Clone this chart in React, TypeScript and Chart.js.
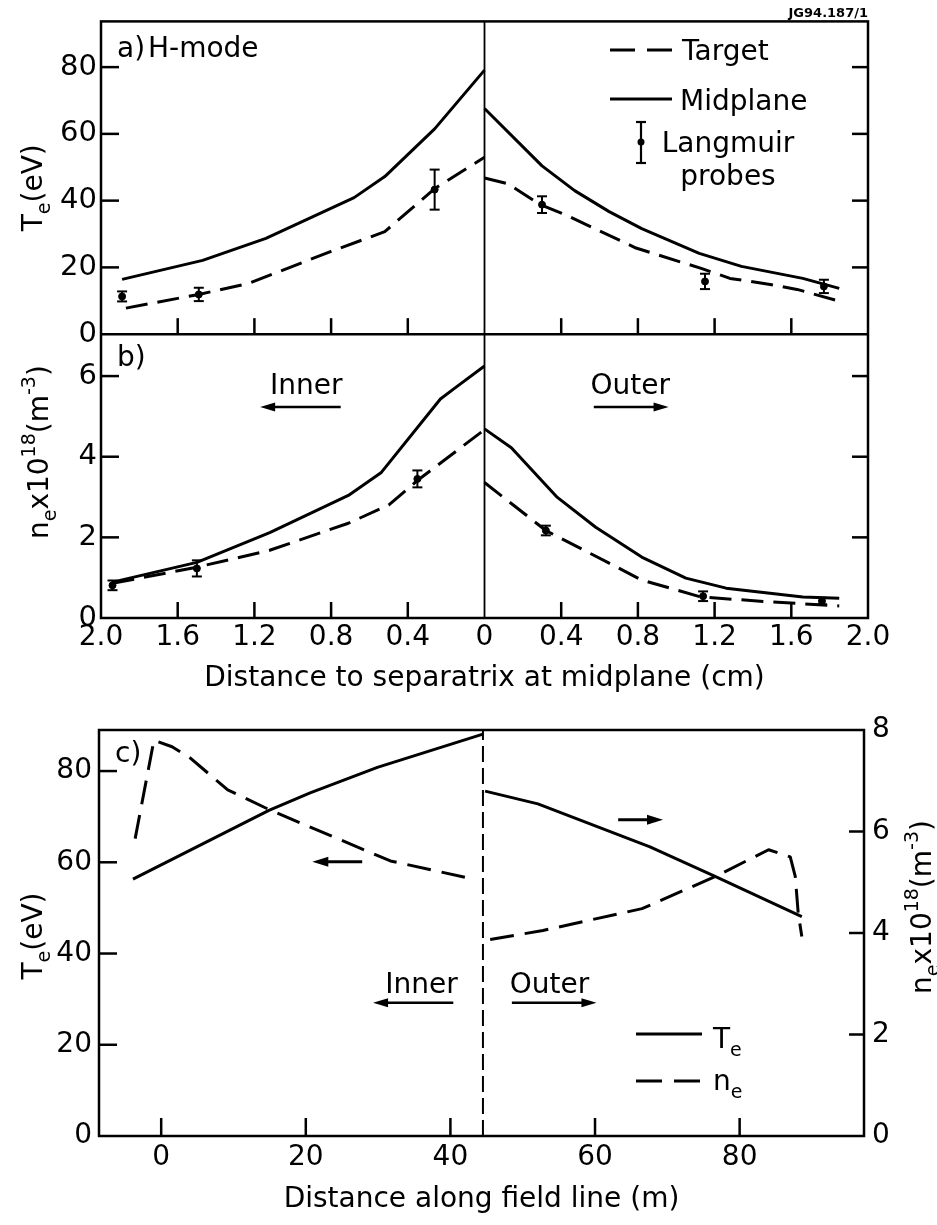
import React, { useEffect, useRef } from "react";
import { Chart, registerables } from "chart.js";

Chart.register(...registerables);

const FONT = '"DejaVu Sans", "Liberation Sans", sans-serif';

// ---------------- Panels a) and b): distance to separatrix at midplane (cm)
// signed axis: negative = inner side, positive = outer side
const AB_X_TICKS = [-2.0, -1.6, -1.2, -0.8, -0.4, 0, 0.4, 0.8, 1.2, 1.6, 2.0];
const AB_X_TICK_LABELS = ["2.0", "1.6", "1.2", "0.8", "0.4", "0", "0.4", "0.8", "1.2", "1.6", "2.0"];
const TE_TICKS = [0, 20, 40, 60, 80];
const NE_TICKS = [0, 2, 4, 6];

// a) Te (eV), inner side (distance from separatrix, cm)
const A_MID_IN_D = [1.89, 1.47, 1.14, 0.68, 0.52, 0.26, 0];
const A_MID_IN_TE = [16.4, 22.1, 28.7, 40.9, 47.2, 61.5, 79.1];
const A_TGT_IN_D = [1.87, 1.49, 1.23, 0.8, 0.52, 0.26, 0];
const A_TGT_IN_TE = [7.8, 11.9, 15.2, 24.8, 30.7, 43.6, 53.0];
// a) Te (eV), outer side
const A_MID_OUT_D = [0, 0.3, 0.47, 0.65, 0.82, 1.12, 1.34, 1.66, 1.85];
const A_MID_OUT_TE = [67.6, 50.4, 43.0, 36.7, 31.6, 24.2, 20.3, 16.7, 13.7];
const A_TGT_OUT_D = [0, 0.12, 0.29, 0.42, 0.79, 1.13, 1.28, 1.49, 1.63, 1.85];
const A_TGT_OUT_TE = [46.8, 45.1, 38.8, 35.8, 25.8, 19.7, 16.7, 14.9, 13.4, 9.9];
// a) Langmuir probes (signed distance)
const A_PROBE_X = [-1.89, -1.49, -0.26, 0.3, 1.15, 1.77];
const A_PROBE_TE = [11.3, 11.9, 43.3, 38.8, 15.8, 14.3];
const A_PROBE_ERR = [1.5, 2.0, 6.0, 2.5, 2.3, 2.0];

// b) ne (10^18 m^-3), inner side
const B_MID_IN_D = [1.94, 1.5, 1.12, 0.71, 0.54, 0.23, 0.155, 0];
const B_MID_IN_NE = [0.89, 1.38, 2.12, 3.04, 3.6, 5.43, 5.7, 6.25];
const B_TGT_IN_D = [1.94, 1.5, 1.12, 0.71, 0.5, 0.35, 0];
const B_TGT_IN_NE = [0.86, 1.26, 1.68, 2.35, 2.8, 3.41, 4.67];
// b) outer side
const B_MID_OUT_D = [0, 0.14, 0.38, 0.58, 0.82, 1.05, 1.26, 1.66, 1.85];
const B_MID_OUT_NE = [4.69, 4.22, 2.99, 2.25, 1.51, 0.99, 0.74, 0.52, 0.49];
const B_TGT_OUT_D = [0, 0.32, 0.65, 0.82, 1.13, 1.49, 1.85];
const B_TGT_OUT_NE = [3.36, 2.17, 1.36, 0.94, 0.52, 0.4, 0.3];
// b) Langmuir probes
const B_PROBE_X = [-1.94, -1.5, -0.35, 0.32, 1.14, 1.76];
const B_PROBE_NE = [0.81, 1.23, 3.45, 2.17, 0.54, 0.42];
const B_PROBE_ERR = [0.12, 0.2, 0.21, 0.12, 0.12, 0.08];

// ---------------- Panel c): distance along field line (m)
const C_X_TICKS = [0, 20, 40, 60, 80];
const C_TE_TICKS = [0, 20, 40, 60, 80];
const C_NE_TICKS = [0, 2, 4, 6, 8];
const C_SEPARATRIX_S = 44.5;
const C_TE_IN_S = [-3.9, 14.9, 20.6, 29.9, 44.5];
const C_TE_IN = [56.3, 71.4, 75.2, 80.8, 88.1];
const C_TE_OUT_S = [44.8, 52.1, 67.6, 76.6, 88.6];
const C_TE_OUT = [75.6, 72.8, 63.4, 56.9, 48.1];
const C_NE_IN_S = [-3.6, -1.0, 1.5, 4.0, 9.2, 15.1, 31.7, 42.0];
const C_NE_IN = [5.86, 7.8, 7.67, 7.45, 6.82, 6.42, 5.42, 5.1];
const C_NE_OUT_S = [45.5, 52.8, 66.5, 76.6, 84.0, 87.0, 87.7, 88.1, 88.6];
const C_NE_OUT = [3.87, 4.05, 4.48, 5.11, 5.64, 5.5, 5.11, 4.39, 3.93];

// ---------------- helpers
const font = (size: number, weight = "") => `${weight ? weight + " " : ""}${size}px ${FONT}`;

function seg(ctx: CanvasRenderingContext2D, x1: number, y1: number, x2: number, y2: number) {
  ctx.beginPath();
  ctx.moveTo(x1, y1);
  ctx.lineTo(x2, y2);
  ctx.stroke();
}

function arrow(ctx: CanvasRenderingContext2D, x1: number, y: number, x2: number, lw = 2.5, head = 15, hw = 4.5) {
  const dir = x2 > x1 ? 1 : -1;
  ctx.save();
  ctx.setLineDash([]);
  ctx.lineWidth = lw;
  seg(ctx, x1, y, x2 - dir * head * 0.7, y);
  ctx.beginPath();
  ctx.moveTo(x2, y);
  ctx.lineTo(x2 - dir * head, y - hw);
  ctx.lineTo(x2 - dir * head, y + hw);
  ctx.closePath();
  ctx.fill();
  ctx.restore();
}

function errBar(ctx: CanvasRenderingContext2D, px: number, pTop: number, pBot: number, cap = 5, lw = 2) {
  ctx.lineWidth = lw;
  ctx.setLineDash([]);
  seg(ctx, px, pTop, px, pBot);
  seg(ctx, px - cap, pTop, px + cap, pTop);
  seg(ctx, px - cap, pBot, px + cap, pBot);
}

type Seg = { t: string; k?: "sub" | "sup" };
function drawRich(
  ctx: CanvasRenderingContext2D,
  segs: Seg[],
  x: number,
  y: number,
  size: number,
  rot = 0,
  align: "left" | "center" = "left"
) {
  ctx.save();
  ctx.translate(x, y);
  ctx.rotate(rot);
  const small = Math.round(size * 0.68);
  let w = 0;
  for (const s of segs) {
    ctx.font = font(s.k ? small : size);
    w += ctx.measureText(s.t).width;
  }
  let cx = align === "center" ? -w / 2 : 0;
  ctx.textAlign = "left";
  ctx.textBaseline = "alphabetic";
  ctx.fillStyle = "#000";
  for (const s of segs) {
    ctx.font = font(s.k ? small : size);
    const dy = s.k === "sub" ? size * 0.28 : s.k === "sup" ? -size * 0.45 : 0;
    ctx.fillText(s.t, cx, dy);
    cx += ctx.measureText(s.t).width;
  }
  ctx.restore();
}

function text(ctx: CanvasRenderingContext2D, s: string, x: number, y: number, align: CanvasTextAlign = "left", f = font(28)) {
  ctx.font = f;
  ctx.textAlign = align;
  ctx.textBaseline = "alphabetic";
  ctx.fillText(s, x, y);
}

const pts = (xs: number[], ys: number[], sign = 1) => xs.map((v, i) => ({ x: sign * v, y: ys[i] }));

function lineDs(label: string, data: any[], yAxisID: string, dashed: boolean, width = 3) {
  return {
    label,
    data,
    yAxisID,
    xAxisID: "x",
    borderColor: "#000",
    backgroundColor: "#000",
    borderWidth: width,
    borderDash: dashed ? [22, 10] : [],
    borderJoinStyle: "round",
    pointRadius: 0,
    tension: 0,
    fill: false,
  };
}

function pointDs(label: string, data: any[], yAxisID: string) {
  return {
    label,
    data,
    yAxisID,
    xAxisID: "x",
    showLine: false,
    pointRadius: 3.5,
    pointStyle: "circle",
    pointBackgroundColor: "#000",
    pointBorderColor: "#000",
    borderColor: "#000",
    backgroundColor: "#000",
  };
}

const fixedTicks = (values: number[]) => (s: any) => {
  s.ticks = values.map((v) => ({ value: v }));
};

const TE_LABEL: Seg[] = [{ t: "T" }, { t: "e", k: "sub" }, { t: "(eV)" }];
const NE_LABEL: Seg[] = [
  { t: "n" },
  { t: "e", k: "sub" },
  { t: "x10" },
  { t: "18", k: "sup" },
  { t: "(m" },
  { t: "-3", k: "sup" },
  { t: ")" },
];

// ---------------- decoration plugins
const abDeco = {
  id: "abDeco",
  afterDraw(chart: any) {
    const { ctx, chartArea: ca, scales } = chart;
    const x = scales.x;
    const ya = scales.ya;
    const yb = scales.yb;
    ctx.save();
    ctx.strokeStyle = "#000";
    ctx.fillStyle = "#000";
    ctx.setLineDash([]);
    ctx.lineWidth = 2.5;
    ctx.strokeRect(ca.left, ca.top, ca.right - ca.left, ca.bottom - ca.top);
    seg(ctx, ca.left, ya.bottom, ca.right, ya.bottom);
    ctx.lineWidth = 1.8;
    const x0 = x.getPixelForValue(0);
    seg(ctx, x0, ca.top, x0, ca.bottom);
    ctx.lineWidth = 2.5;
    const TL = 16;
    TE_TICKS.forEach((v) => {
      if (v <= 0) return;
      const p = ya.getPixelForValue(v);
      seg(ctx, ca.left, p, ca.left + TL + 2, p);
      seg(ctx, ca.right, p, ca.right - TL, p);
    });
    NE_TICKS.forEach((v) => {
      if (v <= 0) return;
      const p = yb.getPixelForValue(v);
      seg(ctx, ca.left, p, ca.left + TL + 2, p);
      seg(ctx, ca.right, p, ca.right - TL, p);
    });
    AB_X_TICKS.forEach((v) => {
      if (v === 0 || Math.abs(v) >= 2) return;
      const p = x.getPixelForValue(v);
      seg(ctx, p, ya.bottom, p, ya.bottom - TL);
      seg(ctx, p, ca.bottom, p, ca.bottom - TL);
    });

    // error bars of the Langmuir probes
    A_PROBE_X.forEach((v, i) => {
      errBar(ctx, x.getPixelForValue(v), ya.getPixelForValue(A_PROBE_TE[i] + A_PROBE_ERR[i]), ya.getPixelForValue(A_PROBE_TE[i] - A_PROBE_ERR[i]));
    });
    B_PROBE_X.forEach((v, i) => {
      errBar(ctx, x.getPixelForValue(v), yb.getPixelForValue(B_PROBE_NE[i] + B_PROBE_ERR[i]), yb.getPixelForValue(B_PROBE_NE[i] - B_PROBE_ERR[i]));
    });

    // panel labels
    text(ctx, "a)", ca.left + 16, ca.top + 36);
    text(ctx, "H-mode", ca.left + 47, ca.top + 36);
    text(ctx, "b)", ca.left + 16, ya.bottom + 32);
    text(ctx, "JG94.187/1", ca.right, ca.top - 4, "right", font(13, "bold"));

    // legend (panel a)
    ctx.lineWidth = 3;
    ctx.setLineDash([25, 12]);
    seg(ctx, 610, 50, 672, 50);
    ctx.setLineDash([]);
    text(ctx, "Target", 682, 60);
    seg(ctx, 610, 99, 672, 99);
    text(ctx, "Midplane", 680, 110);
    errBar(ctx, 641, 122, 163, 5, 2.2);
    ctx.beginPath();
    ctx.arc(641, 142, 3.5, 0, Math.PI * 2);
    ctx.fill();
    text(ctx, "Langmuir", 728, 152, "center");
    text(ctx, "probes", 728, 185, "center");

    // Inner / Outer annotations (panel b)
    text(ctx, "Inner", x.getPixelForValue(-0.93), yb.getPixelForValue(5.56), "center");
    arrow(ctx, x.getPixelForValue(-0.75), yb.getPixelForValue(5.23), x.getPixelForValue(-1.17));
    text(ctx, "Outer", x.getPixelForValue(0.76), yb.getPixelForValue(5.56), "center");
    arrow(ctx, x.getPixelForValue(0.57), yb.getPixelForValue(5.23), x.getPixelForValue(0.96));

    // y axis titles
    drawRich(ctx, TE_LABEL, 42, (ca.top + ya.bottom) / 2 + 10, 28, -Math.PI / 2, "center");
    drawRich(ctx, NE_LABEL, 48, (ya.bottom + ca.bottom) / 2 - 24, 28, -Math.PI / 2, "center");
    ctx.restore();
  },
};

const cDeco = {
  id: "cDeco",
  afterDraw(chart: any) {
    const { ctx, chartArea: ca, scales } = chart;
    const x = scales.x;
    const yl = scales.yl;
    const yr = scales.yr;
    ctx.save();
    ctx.strokeStyle = "#000";
    ctx.fillStyle = "#000";
    ctx.setLineDash([]);
    ctx.lineWidth = 2.5;
    ctx.strokeRect(ca.left, ca.top, ca.right - ca.left, ca.bottom - ca.top);
    C_TE_TICKS.forEach((v) => {
      if (v <= 0) return;
      const p = yl.getPixelForValue(v);
      seg(ctx, ca.left, p, ca.left + 18, p);
    });
    C_NE_TICKS.forEach((v) => {
      if (v <= 0 || v >= yr.max) return;
      const p = yr.getPixelForValue(v);
      seg(ctx, ca.right, p, ca.right - 15, p);
    });
    C_X_TICKS.forEach((v) => {
      const p = x.getPixelForValue(v);
      seg(ctx, p, ca.bottom, p, ca.bottom - 18);
    });

    text(ctx, "c)", ca.left + 16, ca.top + 32);

    // direction arrows
    arrow(ctx, x.getPixelForValue(27.8), yl.getPixelForValue(60.1), x.getPixelForValue(20.9), 3, 16, 5);
    arrow(ctx, x.getPixelForValue(63.2), yr.getPixelForValue(6.23), x.getPixelForValue(69.4), 3, 16, 5);
    text(ctx, "Inner", x.getPixelForValue(36.0), yl.getPixelForValue(31.3), "center");
    arrow(ctx, x.getPixelForValue(40.4), yl.getPixelForValue(29.2), x.getPixelForValue(29.3));
    text(ctx, "Outer", x.getPixelForValue(53.7), yl.getPixelForValue(31.3), "center");
    arrow(ctx, x.getPixelForValue(48.5), yl.getPixelForValue(29.2), x.getPixelForValue(60.2));

    // legend
    ctx.lineWidth = 3;
    seg(ctx, 636, 334, 702, 334);
    ctx.setLineDash([26, 12]);
    seg(ctx, 636, 381, 702, 381);
    ctx.setLineDash([]);
    drawRich(ctx, [{ t: "T" }, { t: "e", k: "sub" }], 713, 348, 28);
    drawRich(ctx, [{ t: "n" }, { t: "e", k: "sub" }], 713, 390, 28);

    // axis titles
    drawRich(ctx, TE_LABEL, 42, (ca.top + ca.bottom) / 2 + 3, 28, -Math.PI / 2, "center");
    drawRich(ctx, NE_LABEL, 931, (ca.top + ca.bottom) / 2 - 26, 28, -Math.PI / 2, "center");
    ctx.restore();
  },
};

function baseScale(extra: any) {
  return {
    type: "linear",
    grid: { display: false, drawTicks: false },
    border: { display: false },
    ...extra,
  };
}

function makeAB(canvas: HTMLCanvasElement) {
  return new Chart(canvas, {
    type: "line",
    data: {
      datasets: [
        lineDs("Midplane", pts(A_MID_IN_D, A_MID_IN_TE, -1), "ya", false),
        lineDs("Midplane", pts(A_MID_OUT_D, A_MID_OUT_TE), "ya", false),
        lineDs("Target", pts(A_TGT_IN_D, A_TGT_IN_TE, -1), "ya", true),
        lineDs("Target", pts(A_TGT_OUT_D, A_TGT_OUT_TE), "ya", true),
        pointDs("Langmuir probes", pts(A_PROBE_X, A_PROBE_TE), "ya"),
        lineDs("Midplane", pts(B_MID_IN_D, B_MID_IN_NE, -1), "yb", false),
        lineDs("Midplane", pts(B_MID_OUT_D, B_MID_OUT_NE), "yb", false),
        lineDs("Target", pts(B_TGT_IN_D, B_TGT_IN_NE, -1), "yb", true),
        lineDs("Target", pts(B_TGT_OUT_D, B_TGT_OUT_NE), "yb", true),
        pointDs("Langmuir probes", pts(B_PROBE_X, B_PROBE_NE), "yb"),
      ] as any,
    },
    options: {
      responsive: false,
      animation: false,
      devicePixelRatio: 1,
      events: [],
      layout: { padding: { left: 41, right: 69, top: 19, bottom: 0 } },
      plugins: { legend: { display: false }, tooltip: { enabled: false } },
      scales: {
        x: baseScale({
          position: "bottom",
          min: -2,
          max: 2,
          afterBuildTicks: fixedTicks(AB_X_TICKS),
          afterFit: (s: any) => {
            s.height = 82;
          },
          ticks: {
            autoSkip: false,
            maxRotation: 0,
            padding: 3,
            color: "#000",
            font: { family: FONT, size: 28 },
            callback: (v: any) => AB_X_TICK_LABELS[AB_X_TICKS.indexOf(Number(v))],
          },
          title: {
            display: true,
            text: "Distance to separatrix at midplane (cm)",
            color: "#000",
            font: { family: FONT, size: 28 },
            padding: { top: 0, bottom: 4 },
          },
        }),
        ya: baseScale({
          position: "left",
          stack: "ab",
          stackWeight: 314,
          weight: 2,
          min: 0,
          max: 93.7,
          afterBuildTicks: fixedTicks(TE_TICKS),
          afterFit: (s: any) => {
            s.width = 60;
          },
          ticks: { padding: 4, color: "#000", font: { family: FONT, size: 29 } },
        }),
        yb: baseScale({
          position: "left",
          stack: "ab",
          stackWeight: 285,
          weight: 1,
          min: 0,
          max: 7.04,
          afterBuildTicks: fixedTicks(NE_TICKS),
          afterFit: (s: any) => {
            s.width = 60;
          },
          ticks: { padding: 4, color: "#000", font: { family: FONT, size: 29 } },
        }),
      },
    } as any,
    plugins: [abDeco],
  });
}

function makeC(canvas: HTMLCanvasElement) {
  return new Chart(canvas, {
    type: "line",
    data: {
      datasets: [
        lineDs("Te", pts(C_TE_IN_S, C_TE_IN), "yl", false),
        lineDs("Te", pts(C_TE_OUT_S, C_TE_OUT), "yl", false),
        { ...lineDs("ne", pts(C_NE_IN_S, C_NE_IN), "yr", true), borderDash: [24, 11] },
        { ...lineDs("ne", pts(C_NE_OUT_S, C_NE_OUT), "yr", true), borderDash: [24, 11] },
        {
          ...lineDs("separatrix", [
            { x: C_SEPARATRIX_S, y: 0 },
            { x: C_SEPARATRIX_S, y: 89 },
          ], "yl", true, 2),
          borderDash: [16, 6],
        },
      ] as any,
    },
    options: {
      responsive: false,
      animation: false,
      devicePixelRatio: 1,
      events: [],
      layout: { padding: { left: 39, right: 13, top: 30, bottom: 0 } },
      plugins: { legend: { display: false }, tooltip: { enabled: false } },
      scales: {
        x: baseScale({
          position: "bottom",
          min: -8.6,
          max: 97.2,
          afterBuildTicks: fixedTicks(C_X_TICKS),
          afterFit: (s: any) => {
            s.height = 89;
          },
          ticks: { autoSkip: false, maxRotation: 0, padding: 5, color: "#000", font: { family: FONT, size: 28 } },
          title: {
            display: true,
            text: "Distance along field line (m)",
            color: "#000",
            font: { family: FONT, size: 28 },
            padding: { top: 0, bottom: 8 },
          },
        }),
        yl: baseScale({
          position: "left",
          min: 0,
          max: 89,
          afterBuildTicks: fixedTicks(C_TE_TICKS),
          afterFit: (s: any) => {
            s.width = 60;
          },
          ticks: { padding: 7, color: "#000", font: { family: FONT, size: 28 } },
        }),
        yr: baseScale({
          position: "right",
          min: 0,
          max: 8,
          afterBuildTicks: fixedTicks(C_NE_TICKS),
          afterFit: (s: any) => {
            s.width = 60;
          },
          ticks: { padding: 8, color: "#000", font: { family: FONT, size: 28 } },
        }),
      },
    } as any,
    plugins: [cDeco],
  });
}

export default function App() {
  const abRef = useRef<HTMLCanvasElement>(null);
  const cRef = useRef<HTMLCanvasElement>(null);
  useEffect(() => {
    const ab = makeAB(abRef.current!);
    const c = makeC(cRef.current!);
    return () => {
      ab.destroy();
      c.destroy();
    };
  }, []);
  return (
    <div style={{ position: "absolute", left: 0, top: 0, width: 937, height: 1225, background: "#fff" }}>
      <canvas ref={abRef} width={937} height={700} style={{ position: "absolute", left: 0, top: 0 }} />
      <canvas ref={cRef} width={937} height={525} style={{ position: "absolute", left: 0, top: 700 }} />
    </div>
  );
}
